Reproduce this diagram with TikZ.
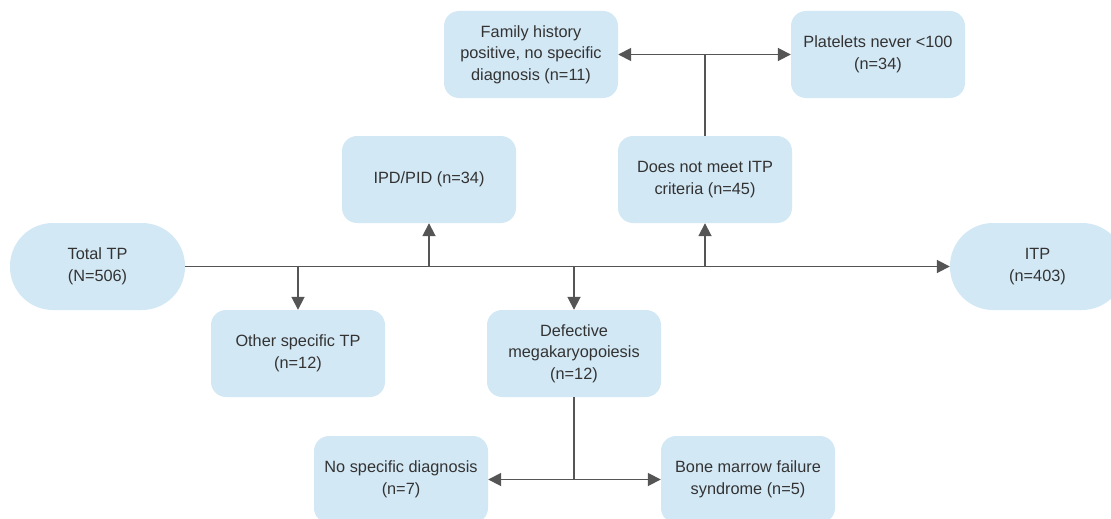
\documentclass[tikz,border=0pt]{standalone}
\usepackage{fontspec}
\setmainfont{Liberation Sans}
\usetikzlibrary{arrows.meta}
\definecolor{boxfill}{HTML}{D3E8F5}
\definecolor{linegray}{HTML}{555555}
\definecolor{txtgray}{HTML}{333333}
\begin{document}
\begin{tikzpicture}[x=1pt,y=-1pt,
  box/.style={fill=boxfill, draw=none, rounded corners=15pt, minimum width=174pt, minimum height=87pt,
    inner sep=0pt, align=center, text=txtgray, font=\fontsize{16.3}{21.5}\selectfont},
  stadium/.style={box, rounded corners=43pt, minimum width=175pt},
  conn/.style={draw=linegray, line width=1.8pt},
  arr/.style={conn, -{Triangle[length=13pt,width=13pt]}},
  darr/.style={conn, {Triangle[length=13pt,width=13pt]}-{Triangle[length=13pt,width=13pt]}}]
\useasboundingbox (0,0) rectangle (1111,519);
\node[stadium] (total) at (97.5,266.5) {Total TP\\(N=506)};
\node[stadium] (itp) at (1037.5,266.5) {ITP\\(n=403)};
\node[box] (fam) at (531,54.5) {Family history\\positive, no specific\\diagnosis (n=11)};
\node[box] (plt) at (878,54.5) {Platelets never <100\\(n=34)};
\node[box] (ipd) at (429,179.5) {IPD/PID (n=34)};
\node[box] (dnm) at (705,179.5) {Does not meet ITP\\criteria (n=45)};
\node[box] (other) at (298,353.5) {Other specific TP\\(n=12)};
\node[box] (def) at (574,353.5) {Defective\\megakaryopoiesis\\(n=12)};
\node[box] (nsd) at (401,479.5) {No specific diagnosis\\(n=7)};
\node[box] (bmf) at (748,479.5) {Bone marrow failure\\syndrome (n=5)};
% main line
\draw[arr] (total.east) -- (itp.west);
\coordinate (b1) at (298,266.5);
\coordinate (b2) at (429,266.5);
\coordinate (b3) at (574,266.5);
\coordinate (b4) at (705,266.5);
\draw[arr] (b1) -- (other.north);
\draw[arr] (b2) -- (ipd.south);
\draw[arr] (b3) -- (def.north);
\draw[arr] (b4) -- (dnm.south);
% top split
\coordinate (t) at (dnm.north |- fam.east);
\draw[conn] (dnm.north) -- (t);
\draw[darr] (fam.east) -- (plt.west);
% bottom split
\coordinate (u) at (def.south |- nsd.east);
\draw[conn] (def.south) -- (u);
\draw[darr] (nsd.east) -- (bmf.west);
\end{tikzpicture}
\end{document}
